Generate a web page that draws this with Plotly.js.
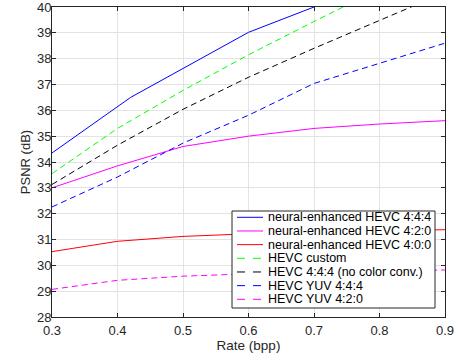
<!DOCTYPE html>
<html>
<head>
<meta charset="utf-8">
<script src="https://cdn.plot.ly/plotly-3.0.1.min.js"></script>
<style>html,body{margin:0;padding:0;background:#fff;}#chart{width:464px;height:355px;}</style>
</head>
<body>
<div id="chart"></div>
<script>
// ---- data ----
var seriesNames = [
  "neural-enhanced HEVC 4:4:4",
  "neural-enhanced HEVC 4:2:0",
  "neural-enhanced HEVC 4:0:0",
  "HEVC custom",
  "HEVC 4:4:4 (no color conv.)",
  "HEVC YUV 4:4:4",
  "HEVC YUV 4:2:0"
];
var neural444X = [0.3, 0.42, 0.6, 0.7];
var neural444Y = [34.35, 36.5, 39.02, 40.0];
var neural420X = [0.3, 0.4, 0.5, 0.6, 0.7, 0.8, 0.9];
var neural420Y = [33.0, 33.85, 34.6, 35.0, 35.3, 35.47, 35.6];
var neural400X = [0.3, 0.4, 0.5, 0.6, 0.7, 0.8, 0.9];
var neural400Y = [30.53, 30.93, 31.12, 31.22, 31.29, 31.34, 31.38];
var hevcCustomX = [0.3, 0.4, 0.5, 0.6, 0.7, 0.75];
var hevcCustomY = [33.55, 35.3, 36.77, 38.15, 39.44, 40.07];
var hevc444X = [0.3, 0.4, 0.5, 0.6, 0.7, 0.8, 0.85];
var hevc444Y = [33.13, 34.65, 36.04, 37.28, 38.4, 39.5, 40.02];
var yuv444X = [0.3, 0.4, 0.5, 0.6, 0.7, 0.8, 0.9];
var yuv444Y = [32.26, 33.42, 34.73, 35.81, 37.04, 37.83, 38.6];
var yuv420X = [0.3, 0.4, 0.5, 0.6, 0.7, 0.8, 0.9];
var yuv420Y = [29.07, 29.42, 29.58, 29.67, 29.73, 29.78, 29.82];
var xTicks = [0.3, 0.4, 0.5, 0.6, 0.7, 0.8, 0.9];
var yTicks = [28, 29, 30, 31, 32, 33, 34, 35, 36, 37, 38, 39, 40];

// ---- styling ----
var colors = ["#0000ff", "#ff00ff", "#ff0000", "#00ff00", "#000000", "#0000ff", "#ff00ff"];
var dashes = ["solid", "solid", "solid", "6px,4px", "6px,4px", "6px,4px", "6px,4px"];
var xs = [neural444X, neural420X, neural400X, hevcCustomX, hevc444X, yuv444X, yuv420X];
var ys = [neural444Y, neural420Y, neural400Y, hevcCustomY, hevc444Y, yuv444Y, yuv420Y];

var traces = [];
for (var i = 0; i < seriesNames.length; i++) {
  traces.push({
    x: xs[i], y: ys[i], name: seriesNames[i], type: "scatter", mode: "lines",
    line: {color: colors[i], width: 1, dash: dashes[i]}, showlegend: false
  });
}

var W = 464, H = 355;
var mL = 52, mR = 19, mT = 7, mB = 38;
var pw = W - mL - mR, ph = H - mT - mB;
function px(x) { return (x - mL) / pw; }
function py(y) { return (H - mB - y) / ph; }

var axisCol = "#262626";
var fontFam = "Liberation Sans, Arial, sans-serif";

var shapes = [];
var annotations = [];
// custom legend box
shapes.push({type: "rect", xref: "paper", yref: "paper",
  x0: px(232), x1: px(435), y0: py(308), y1: py(211),
  fillcolor: "#ffffff", line: {color: axisCol, width: 1}, layer: "above"});
var rowY0 = 217.3, rowStep = 13.67;
for (var j = 0; j < seriesNames.length; j++) {
  var yy = rowY0 + j * rowStep;
  shapes.push({type: "line", xref: "paper", yref: "paper",
    x0: px(237), x1: px(dashes[j] === "solid" ? 263 : 262), y0: py(yy), y1: py(yy),
    line: {color: colors[j], width: 1, dash: dashes[j] === "solid" ? "solid" : "8px,8px"}, layer: "above"});
  annotations.push({xref: "paper", yref: "paper", x: px(266), y: py(yy),
    xanchor: "left", yanchor: "middle", showarrow: false, text: seriesNames[j],
    font: {family: fontFam, size: 12.5, color: "#000000"}});
}

var axisCommon = {
  showline: true, linecolor: axisCol, linewidth: 1, mirror: "ticks",
  ticks: "inside", ticklen: 4, tickwidth: 1, tickcolor: axisCol,
  showgrid: true, gridcolor: "#e3e3e3", gridwidth: 1, zeroline: false,
  ticklabeloverflow: "allow",
  tickfont: {family: fontFam, size: 13, color: axisCol}
};

var layout = {
  width: W, height: H,
  margin: {l: mL, r: mR, t: mT, b: mB, pad: 0},
  paper_bgcolor: "#ffffff", plot_bgcolor: "#ffffff",
  showlegend: false,
  font: {family: fontFam, color: axisCol},
  xaxis: Object.assign({}, axisCommon, {
    range: [0.3, 0.9], tickmode: "array", tickvals: xTicks, ticktext: xTicks.map(function(v){return v.toFixed(1);}),
    ticklabelstandoff: 1,
    title: {text: "Rate (bpp)", font: {family: fontFam, size: 13.5, color: axisCol}, standoff: 0}
  }),
  yaxis: Object.assign({}, axisCommon, {
    range: [28, 40], tickmode: "array", tickvals: yTicks, ticktext: yTicks.map(String),
    ticklabelstandoff: -3,
    title: {text: "PSNR (dB)", font: {family: fontFam, size: 13, color: axisCol}, standoff: 3}
  }),
  shapes: shapes,
  annotations: annotations
};

Plotly.newPlot("chart", traces, layout, {displayModeBar: false, staticPlot: true});
</script>
</body>
</html>
